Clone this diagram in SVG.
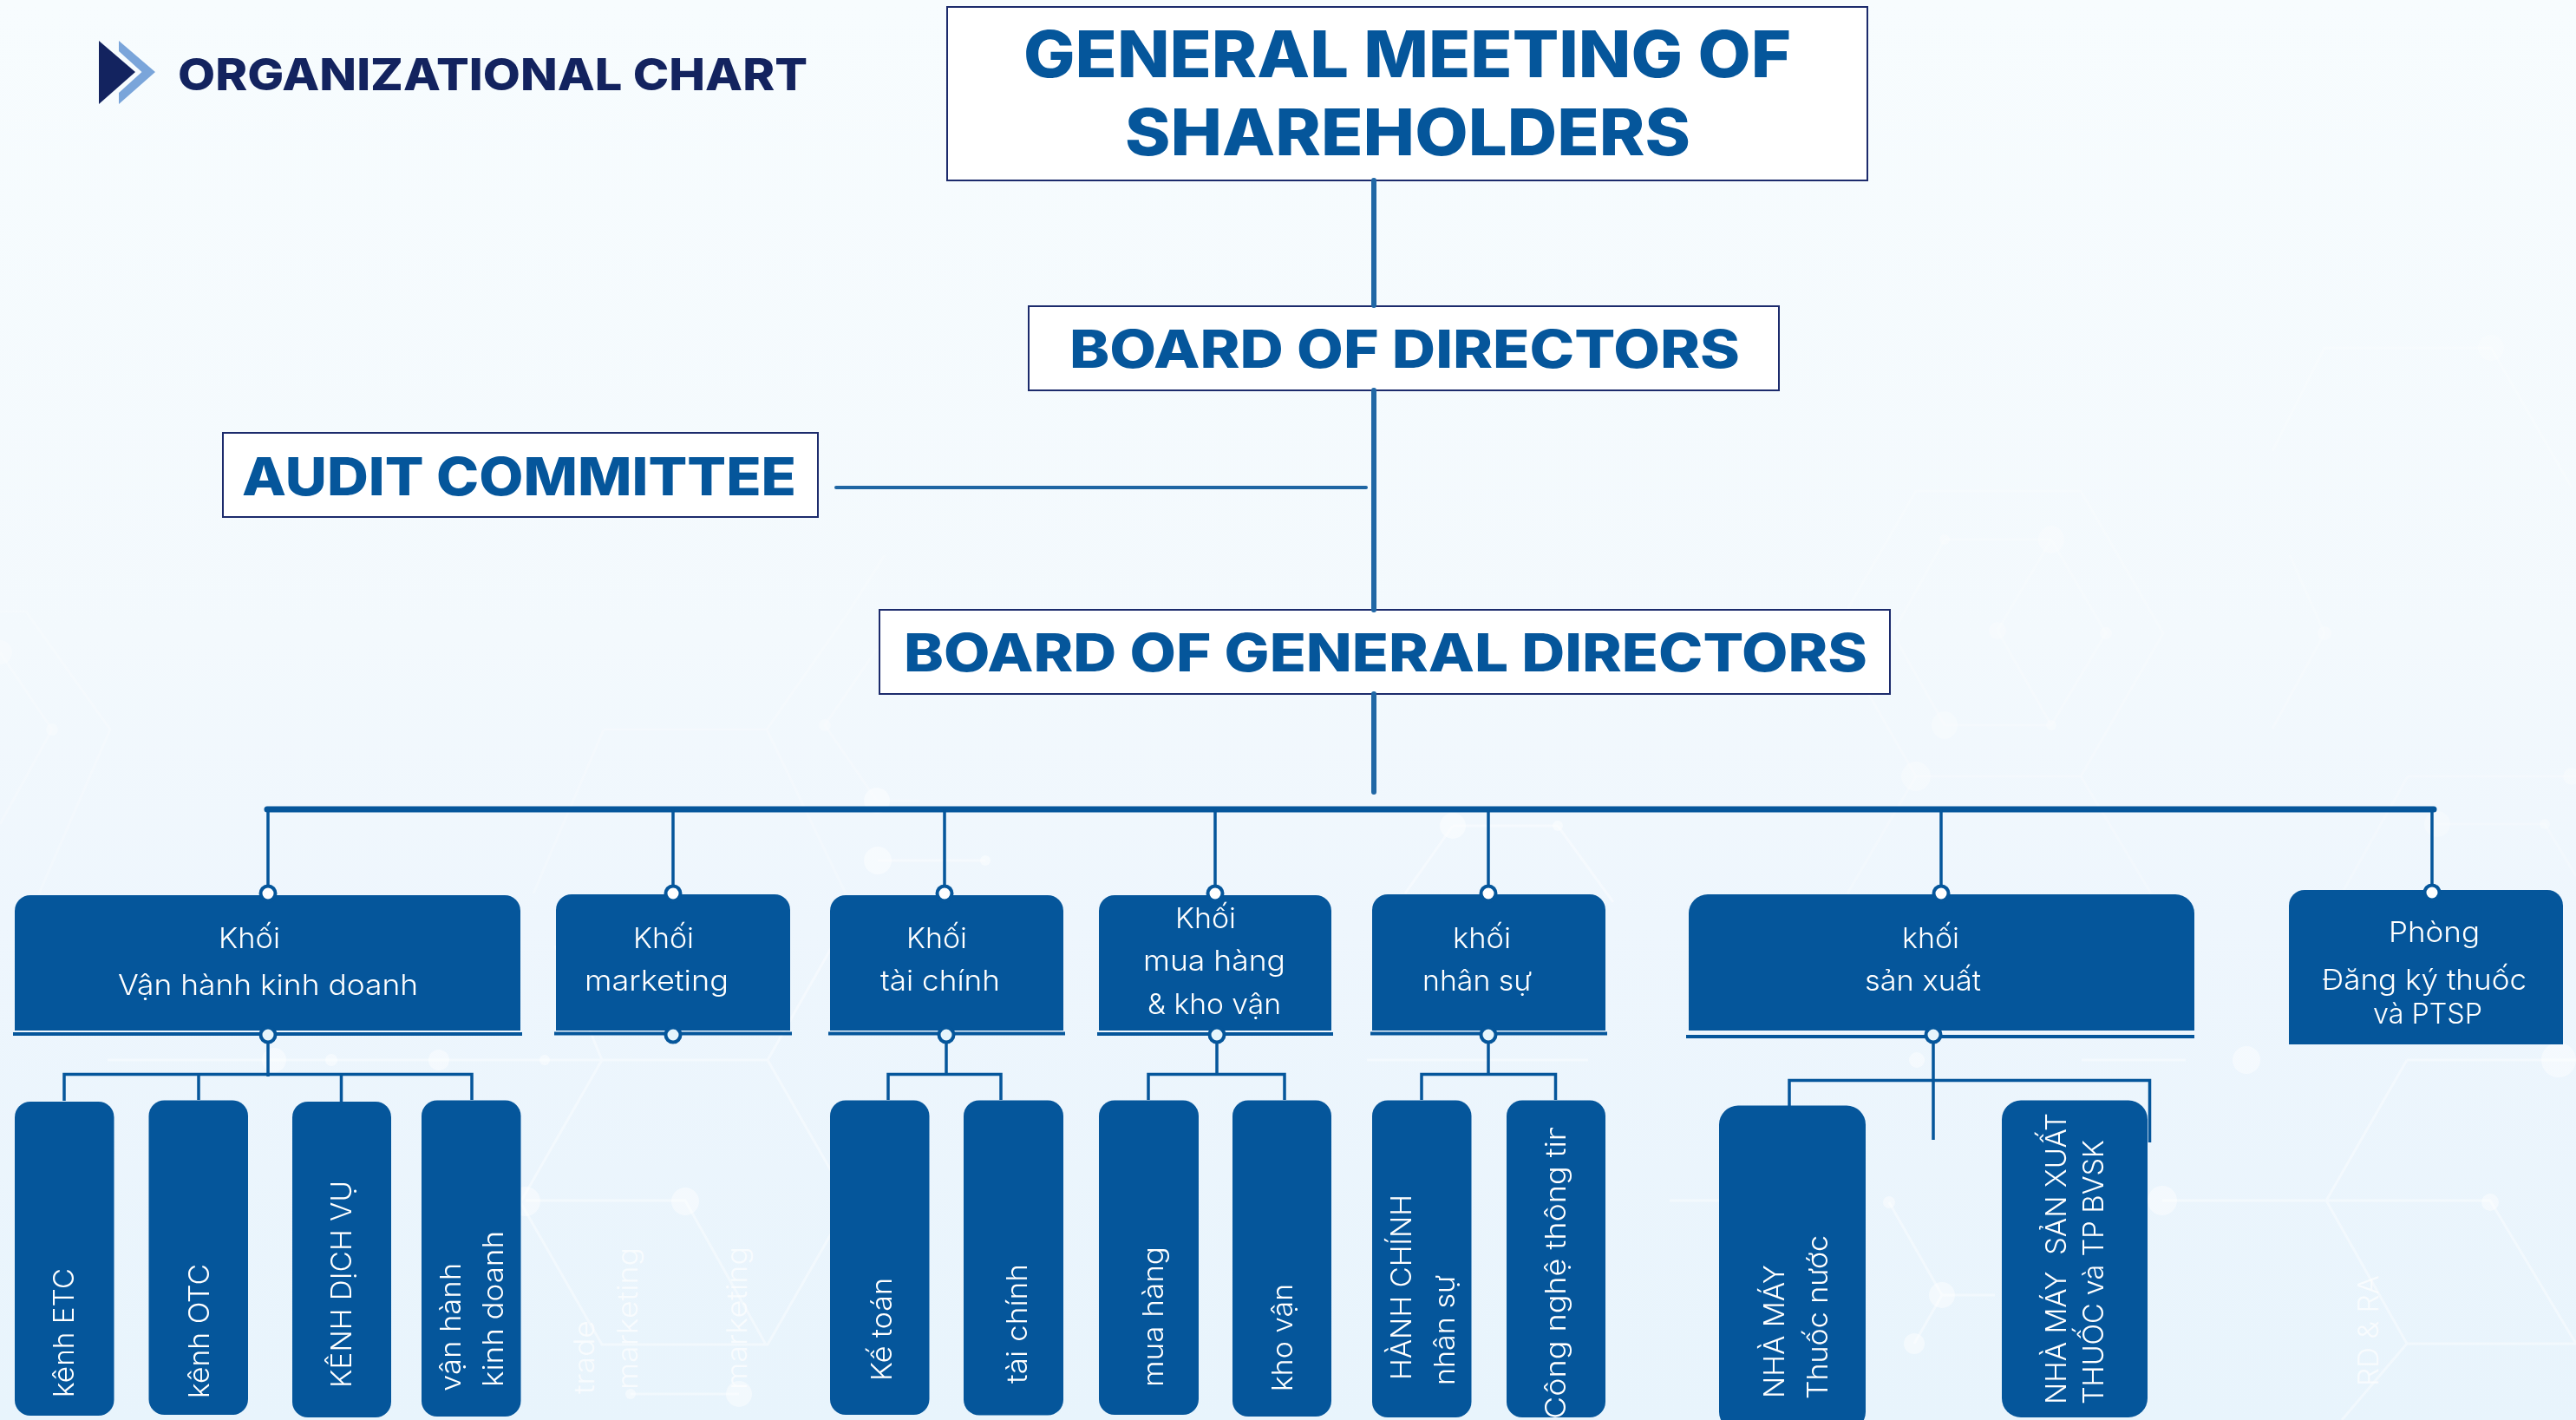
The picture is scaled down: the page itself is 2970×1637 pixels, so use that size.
<svg xmlns="http://www.w3.org/2000/svg" width="2970" height="1637" viewBox="0 0 2970 1637">
<style>
.box{fill:#fff;stroke:#1c2b6c;stroke-width:2}
.blue{fill:#05569b}
.hd{font-family:Inter,"Liberation Sans",sans-serif;font-weight:800;fill:#05569b}
.lt{font-family:Inter,"Noto Sans",sans-serif;font-weight:300;font-size:33px;fill:#fff}
.rt{font-family:Inter,"Noto Sans",sans-serif;font-weight:300;font-size:33px;fill:#fff}
.gh{font-family:Inter,"Noto Sans",sans-serif;font-weight:300;font-size:33px;fill:#fff;opacity:.7}
.ln{fill:none;stroke:#05569b;stroke-width:3.5}
.dot{fill:#fff;stroke:#05569b;stroke-width:4}
.dot2{fill:#e6f5fc;stroke:#05569b;stroke-width:4}
.hx{fill:none;stroke:#fff;stroke-width:3;opacity:.4}
.hy{fill:none;stroke:#fff;stroke-width:3;opacity:.22}
.nd{fill:#fff;opacity:.45}
</style>
<defs>
<linearGradient id="bg" x1="0" y1="0" x2="0" y2="1">
<stop offset="0" stop-color="#f7fcfe"/><stop offset=".45" stop-color="#f3f9fd"/><stop offset=".65" stop-color="#eef6fd"/><stop offset="1" stop-color="#e8f4fc"/>
</linearGradient>
<clipPath id="cntt"><rect x="1737" y="1300" width="114" height="337"/></clipPath>
</defs>
<rect width="2970" height="1637" fill="url(#bg)"/>
<g id="background">
<path class="hy" d="M2209 566H2399L2494 730L2399 895H2209L2114 730Z"/>
<path class="hy" d="M2242 622H2365L2428 730L2365 836H2242L2182 730ZM2365 622L2303 727L2365 836"/>
<path class="hy" d="M2620 520L2680 401H2872L2965 562M2680 730L2620 840M2680 730L2640 640M2776 895H2970M2776 895L2700 1030M2810 950H2934L2970 1010M2209 895L2130 1030M2399 895L2480 1030"/>
<path class="hy" d="M0 705H30L127 841L45 1030M0 752L60 841L0 950M696 841H884L978 706L1020 640M884 841L975 1030M696 841L615 1030M1011 748L951 836L1011 923H1060"/>
<path class="hx" d="M1012 992H1136M1675 952H1796M1796 952L1860 1040M1675 952L1620 1030"/>
<path class="hx" d="M694 1222H885L979 1386L885 1550H694L600 1386ZM606 1384H790L883 1550M727 1607H852M124 1222H694M885 1222L960 1090M694 1222L640 1090M979 1386H1010"/>
<path class="hx" d="M2400 1222H2520M2775 1222H2970M2682 1384L2775 1222M2682 1384L2775 1549H2970M2493 1384H2871L2970 1549M2239 1493H2300M2178 1386L2239 1493L2207 1549M1925 1384H1990M2775 1549L2700 1637M1576 1222H1640M1640 1222H1831"/>
<g opacity=".6"><ellipse class="nd" cx="2365" cy="622" rx="15" ry="16"/><ellipse class="nd" cx="2242" cy="836" rx="15" ry="16"/><circle class="nd" cx="2209" cy="895" r="17"/><circle class="nd" cx="2303" cy="727" r="10"/><circle class="nd" cx="2428" cy="730" r="7"/><circle class="nd" cx="2242" cy="622" r="6"/><circle class="nd" cx="2365" cy="836" r="6"/><circle class="nd" cx="2872" cy="401" r="15"/><circle class="nd" cx="2680" cy="730" r="8"/><circle class="nd" cx="2810" cy="950" r="15"/><circle class="nd" cx="2934" cy="950" r="6"/><circle class="nd" cx="2965" cy="895" r="10"/><circle class="nd" cx="0" cy="752" r="14"/><circle class="nd" cx="60" cy="841" r="7"/><circle class="nd" cx="951" cy="836" r="7"/></g>
<circle class="nd" cx="2950" cy="1222" r="20"/><circle class="nd" cx="1011" cy="923" r="15"/><circle class="nd" cx="1012" cy="992" r="16"/><circle class="nd" cx="1136" cy="992" r="6"/><circle class="nd" cx="1675" cy="952" r="15"/><circle class="nd" cx="1796" cy="952" r="6"/><circle class="nd" cx="316" cy="1222" r="14"/><circle class="nd" cx="382" cy="1222" r="7"/><circle class="nd" cx="506" cy="1222" r="12"/><circle class="nd" cx="628" cy="1222" r="6"/><circle class="nd" cx="606" cy="1385" r="17"/><circle class="nd" cx="790" cy="1385" r="16"/><circle class="nd" cx="852" cy="1607" r="15"/><circle class="nd" cx="727" cy="1607" r="6"/><circle class="nd" cx="2493" cy="1384" r="17"/><circle class="nd" cx="2871" cy="1386" r="10"/><circle class="nd" cx="2239" cy="1493" r="15"/><circle class="nd" cx="2207" cy="1549" r="12"/><circle class="nd" cx="2178" cy="1386" r="7"/><circle class="nd" cx="2590" cy="1222" r="16"/><circle class="nd" cx="2210" cy="1222" r="9"/>
</g>
<g id="title">
<path d="M114 47L156 83L114 120Z" fill="#13235f"/>
<path d="M137 47L179 83L137 120V107L163.500 83L137 59Z" fill="#7aa5da"/>
<text x="205" y="104" font-size="51" textLength="726" lengthAdjust="spacingAndGlyphs" style="font-family:Inter,'Liberation Sans',sans-serif;font-weight:800;fill:#13235f">ORGANIZATIONAL CHART</text>
</g>
<g id="ghost-labels">
<text class="gh" transform="translate(685,1607) rotate(-90)" textLength="85" lengthAdjust="spacingAndGlyphs">trade</text>
<text class="gh" transform="translate(735,1602) rotate(-90)" textLength="164" lengthAdjust="spacingAndGlyphs">marketing</text>
<text class="gh" transform="translate(861,1602) rotate(-90)" textLength="165" lengthAdjust="spacingAndGlyphs">marketing</text>
<text class="gh" transform="translate(2742,1598) rotate(-90)" textLength="128" lengthAdjust="spacingAndGlyphs">RD &amp; RA</text>
</g>
<g id="n-gms"><rect class="box" x="1092" y="8" width="1061" height="200"/>
<text class="hd" x="1180" y="89" font-size="74" textLength="885" lengthAdjust="spacingAndGlyphs">GENERAL MEETING OF</text>
<text class="hd" x="1297" y="179" font-size="74" textLength="652" lengthAdjust="spacingAndGlyphs">SHAREHOLDERS</text></g>
<g id="n-bod"><rect class="box" x="1186" y="353" width="865" height="97"/>
<text class="hd" x="1233" y="424" font-size="60" textLength="773" lengthAdjust="spacingAndGlyphs">BOARD OF DIRECTORS</text></g>
<g id="n-audit"><rect class="box" x="257" y="499" width="686" height="97"/>
<text class="hd" x="279" y="571" font-size="60" textLength="639" lengthAdjust="spacingAndGlyphs">AUDIT COMMITTEE</text></g>
<g id="n-bogd"><rect class="box" x="1014" y="703" width="1165" height="97"/>
<text class="hd" x="1042" y="774" font-size="60" textLength="1111" lengthAdjust="spacingAndGlyphs">BOARD OF GENERAL DIRECTORS</text></g>
<g id="n-khoi-vhkd"><path class="blue" d="M17 1188V1050a18 18 0 0 1 18-18H582a18 18 0 0 1 18 18V1188Z"/>
<text class="lt" x="252" y="1093" textLength="71" lengthAdjust="spacingAndGlyphs">Khối</text>
<text class="lt" x="136" y="1147" textLength="346" lengthAdjust="spacingAndGlyphs">Vận hành kinh doanh</text></g>
<g id="n-khoi-mkt"><path class="blue" d="M641 1188V1049a18 18 0 0 1 18-18H893a18 18 0 0 1 18 18V1188Z"/>
<text class="lt" x="730" y="1093" textLength="70" lengthAdjust="spacingAndGlyphs">Khối</text>
<text class="lt" x="674" y="1142" textLength="166" lengthAdjust="spacingAndGlyphs">marketing</text></g>
<g id="n-khoi-tc"><path class="blue" d="M957 1188V1050a18 18 0 0 1 18-18H1208a18 18 0 0 1 18 18V1188Z"/>
<text class="lt" x="1045" y="1093" textLength="70" lengthAdjust="spacingAndGlyphs">Khối</text>
<text class="lt" x="1015" y="1142" textLength="138" lengthAdjust="spacingAndGlyphs">tài chính</text></g>
<g id="n-khoi-mh"><path class="blue" d="M1267 1188V1050a18 18 0 0 1 18-18H1517a18 18 0 0 1 18 18V1188Z"/>
<text class="lt" x="1355" y="1070" textLength="70" lengthAdjust="spacingAndGlyphs">Khối</text>
<text class="lt" x="1318" y="1119" textLength="164" lengthAdjust="spacingAndGlyphs">mua hàng</text>
<text class="lt" x="1323" y="1169" textLength="154" lengthAdjust="spacingAndGlyphs">&amp; kho vận</text></g>
<g id="n-khoi-ns"><path class="blue" d="M1582 1188V1049a18 18 0 0 1 18-18H1833a18 18 0 0 1 18 18V1188Z"/>
<text class="lt" x="1675" y="1093" textLength="67" lengthAdjust="spacingAndGlyphs">khối</text>
<text class="lt" x="1640" y="1142" textLength="126" lengthAdjust="spacingAndGlyphs">nhân sự</text></g>
<g id="n-khoi-sx"><path class="blue" d="M1947 1188V1053a22 22 0 0 1 22-22H2508a22 22 0 0 1 22 22V1188Z"/>
<text class="lt" x="2193" y="1093" textLength="66" lengthAdjust="spacingAndGlyphs">khối</text>
<text class="lt" x="2150" y="1142" textLength="134" lengthAdjust="spacingAndGlyphs">sản xuất</text></g>
<g id="n-phong"><path class="blue" d="M2639 1204V1044a18 18 0 0 1 18-18H2937a18 18 0 0 1 18 18V1204Z"/>
<text class="lt" x="2754" y="1086" textLength="105" lengthAdjust="spacingAndGlyphs">Phòng</text>
<text class="lt" x="2677" y="1141" textLength="236" lengthAdjust="spacingAndGlyphs">Đăng ký thuốc</text>
<text class="lt" x="2736" y="1180" textLength="126" lengthAdjust="spacingAndGlyphs">và PTSP</text></g>
<g id="l-etc"><rect class="blue" x="17" y="1270" width="114.500" height="362" rx="18"/>
<text class="rt" transform="translate(85,1611) rotate(-90)" textLength="149" lengthAdjust="spacingAndGlyphs">kênh ETC</text></g>
<g id="l-otc"><rect class="blue" x="171.500" y="1268.500" width="114.500" height="362.500" rx="18"/>
<text class="rt" transform="translate(240.500,1612) rotate(-90)" textLength="155" lengthAdjust="spacingAndGlyphs">kênh OTC</text></g>
<g id="l-dv"><rect class="blue" x="337" y="1270" width="114" height="364" rx="18"/>
<text class="rt" transform="translate(405,1600) rotate(-90)" textLength="239" lengthAdjust="spacingAndGlyphs">KÊNH DỊCH VỤ</text></g>
<g id="l-vhkd"><rect class="blue" x="486" y="1268.500" width="114.500" height="364.500" rx="18"/>
<text class="rt" transform="translate(531,1604) rotate(-90)" textLength="148" lengthAdjust="spacingAndGlyphs">vận hành</text>
<text class="rt" transform="translate(580,1599) rotate(-90)" textLength="180" lengthAdjust="spacingAndGlyphs">kinh doanh</text></g>
<g id="l-kt"><rect class="blue" x="957" y="1268.500" width="114.500" height="362.500" rx="18"/>
<text class="rt" transform="translate(1027.500,1592) rotate(-90)" textLength="119" lengthAdjust="spacingAndGlyphs">Kế toán</text></g>
<g id="l-tc"><rect class="blue" x="1111" y="1268.500" width="115" height="363" rx="18"/>
<text class="rt" transform="translate(1184,1595) rotate(-90)" textLength="138" lengthAdjust="spacingAndGlyphs">tài chính</text></g>
<g id="l-mh"><rect class="blue" x="1267" y="1268.500" width="115" height="362.500" rx="18"/>
<text class="rt" transform="translate(1341,1599) rotate(-90)" textLength="162" lengthAdjust="spacingAndGlyphs">mua hàng</text></g>
<g id="l-kv"><rect class="blue" x="1421" y="1268.500" width="114" height="364.500" rx="18"/>
<text class="rt" transform="translate(1490,1604) rotate(-90)" textLength="124" lengthAdjust="spacingAndGlyphs">kho vận</text></g>
<g id="l-hc"><rect class="blue" x="1582" y="1268.500" width="114.500" height="365.500" rx="18"/>
<text class="rt" transform="translate(1627,1591) rotate(-90)" textLength="214" lengthAdjust="spacingAndGlyphs">HÀNH CHÍNH</text>
<text class="rt" transform="translate(1677,1597) rotate(-90)" textLength="127" lengthAdjust="spacingAndGlyphs">nhân sự</text></g>
<g id="l-cntt"><rect class="blue" x="1737" y="1268.500" width="114" height="365.500" rx="18"/>
<g clip-path="url(#cntt)"><text class="rt" transform="translate(1805,1636) rotate(-90)" textLength="342" lengthAdjust="spacingAndGlyphs">Công nghệ thông tin</text></g></g>
<g id="l-thuoc"><rect class="blue" x="1982" y="1274.500" width="169" height="375" rx="22"/>
<text class="rt" transform="translate(2057,1612) rotate(-90)" textLength="154" lengthAdjust="spacingAndGlyphs">NHÀ MÁY</text>
<text class="rt" transform="translate(2107,1613) rotate(-90)" textLength="189" lengthAdjust="spacingAndGlyphs">Thuốc nước</text></g>
<g id="l-bvsk"><rect class="blue" x="2308" y="1268.500" width="168" height="365.500" rx="22"/>
<text class="rt" xml:space="preserve" transform="translate(2382,1619) rotate(-90)" textLength="336" lengthAdjust="spacingAndGlyphs">NHÀ MÁY  SẢN XUẤT</text>
<text class="rt" transform="translate(2425,1619) rotate(-90)" textLength="305" lengthAdjust="spacingAndGlyphs">THUỐC và TP BVSK</text></g>
<g id="connectors">
<path fill="none" stroke="#2067a5" stroke-width="6" stroke-linecap="round" d="M1584 208V352M1584 450V703M1584 800V913"/>
<path fill="none" stroke="#1f66a3" stroke-width="4" stroke-linecap="round" d="M964 562H1575"/>
<path fill="none" stroke="#05569b" stroke-width="7" stroke-linecap="round" d="M308 933H2806"/>
<path class="ln" d="M309 933V1030M776 933V1030M1089 933V1030M1401 933V1030M1716 933V1030M2238 933V1030M2804 933V1029"/>
<path class="ln" d="M309 1193V1241M74 1269V1238.500H544V1268M229 1238.500V1268M393.500 1238.500V1270"/>
<path class="ln" d="M1091 1193V1238.500M1024 1268V1238.500H1154V1268"/>
<path class="ln" d="M1403 1193V1238.500M1324 1268V1238.500H1481V1268"/>
<path class="ln" d="M1716 1193V1238.500M1639 1268V1238.500H1793.500V1268"/>
<path class="ln" d="M2229 1193V1314M2063 1275V1245.500H2478.500V1317"/>
<g fill="#05569b">
<rect x="15" y="1190" width="587" height="4"/><rect x="639" y="1189.500" width="274" height="4"/><rect x="955" y="1189.500" width="273" height="4"/><rect x="1265" y="1190" width="272" height="4"/><rect x="1580" y="1189.500" width="273" height="4"/><rect x="1944" y="1193" width="586" height="4"/>
</g>
<circle class="dot" cx="309" cy="1030" r="8.500"/><circle class="dot" cx="776" cy="1030" r="8.500"/><circle class="dot" cx="1089" cy="1030" r="8.500"/><circle class="dot" cx="1401" cy="1030" r="8.500"/><circle class="dot" cx="1716" cy="1030" r="8.500"/><circle class="dot" cx="2238" cy="1030" r="8.500"/><circle class="dot" cx="2804" cy="1029" r="8.500"/>
<circle class="dot2" cx="309" cy="1193" r="8.500"/><circle class="dot2" cx="776" cy="1193" r="8.500"/><circle class="dot2" cx="1091" cy="1193" r="8.500"/><circle class="dot2" cx="1403" cy="1193" r="8.500"/><circle class="dot2" cx="1716" cy="1193" r="8.500"/><circle class="dot2" cx="2229" cy="1193" r="8.500"/>
</g>
</svg>
